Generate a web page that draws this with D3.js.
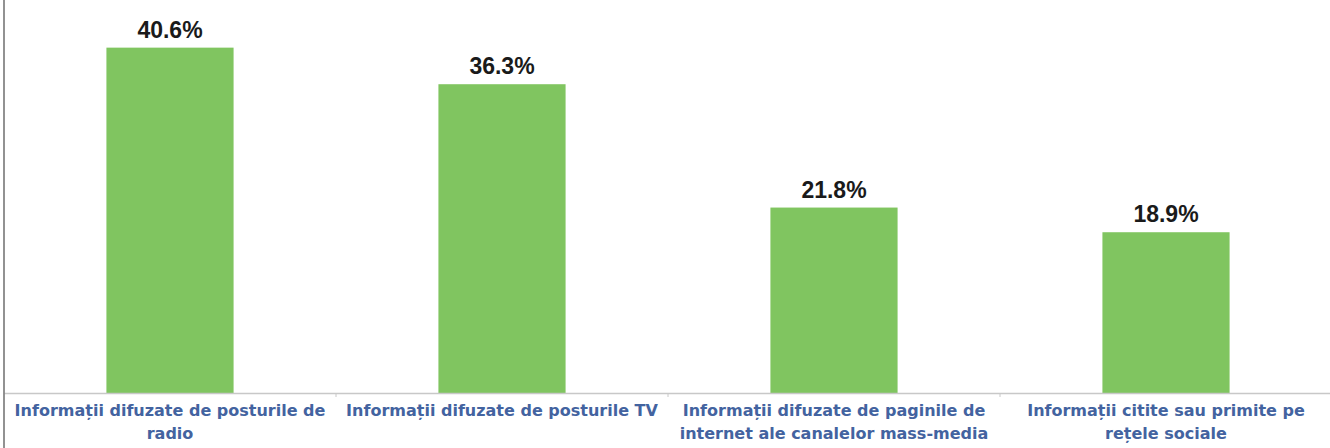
<!DOCTYPE html>
<html>
<head>
<meta charset="utf-8">
<script src="https://cdn.jsdelivr.net/npm/d3@7"></script>
<style>
  html, body { margin: 0; padding: 0; background: #ffffff; }
  svg { display: block; }
</style>
</head>
<body>
<svg id="chart" width="1330" height="448"></svg>
<script>
const categories = [
  "Informații difuzate de posturile de radio",
  "Informații difuzate de posturile TV",
  "Informații difuzate de paginile de internet ale canalelor mass-media",
  "Informații citite sau primite pe rețele sociale"
];
const categoryLines = [
  ["Informații difuzate de posturile de", "radio"],
  ["Informații difuzate de posturile TV"],
  ["Informații difuzate de paginile de", "internet ale canalelor mass-media"],
  ["Informații citite sau primite pe", "rețele sociale"]
];
const values = [40.6, 36.3, 21.8, 18.9];
const valueLabels = ["40.6%", "36.3%", "21.8%", "18.9%"];

const W = 1330, H = 448;
const left = 4, right = 1332, baseY = 393;

const svg = d3.select("#chart");

const x = d3.scaleBand()
  .domain(categories)
  .range([left, right])
  .paddingInner(0.617)
  .paddingOuter(0.3085);

const y = d3.scaleLinear()
  .domain([0, 46.2])
  .range([baseY, 0]);

// bars
svg.append("g").selectAll("rect")
  .data(categories)
  .join("rect")
  .attr("x", d => x(d))
  .attr("y", (d, i) => y(values[i]))
  .attr("width", x.bandwidth())
  .attr("height", (d, i) => baseY - y(values[i]))
  .attr("fill", "#80c560");

// value labels
svg.append("g").selectAll("text")
  .data(categories)
  .join("text")
  .attr("x", d => x(d) + x.bandwidth() / 2)
  .attr("y", (d, i) => y(values[i]) - 10)
  .attr("text-anchor", "middle")
  .attr("font-family", "Liberation Sans, Arial, sans-serif")
  .attr("font-weight", "bold")
  .attr("font-size", "23px")
  .attr("fill", "#1a1a1a")
  .text((d, i) => valueLabels[i]);

// x axis
const xAxis = d3.axisBottom(x).tickSize(0).tickFormat("");
const gx = svg.append("g")
  .attr("transform", `translate(0,${baseY})`)
  .call(xAxis);
gx.select(".domain").attr("stroke", "#c8c8c8").attr("stroke-width", 1.5);

// separator ticks between categories
const step = x.step();
svg.append("g").selectAll("line")
  .data(d3.range(1, categories.length))
  .join("line")
  .attr("x1", i => left + step * i)
  .attr("x2", i => left + step * i)
  .attr("y1", baseY)
  .attr("y2", baseY + 4)
  .attr("stroke", "#c8c8c8")
  .attr("stroke-width", 1);

// category labels
const labels = svg.append("g").selectAll("text")
  .data(categories)
  .join("text")
  .attr("text-anchor", "middle")
  .attr("font-family", "DejaVu Sans, Verdana, sans-serif")
  .attr("font-weight", "bold")
  .attr("font-size", "16px")
  .attr("fill", "#4363a0");
labels.each(function(d, i) {
  const t = d3.select(this);
  categoryLines[i].forEach((line, j) => {
    t.append("tspan")
      .attr("x", x(d) + x.bandwidth() / 2)
      .attr("y", 416 + j * 23)
      .text(line);
  });
});

// left vertical line
svg.append("line")
  .attr("x1", 4).attr("x2", 4)
  .attr("y1", 0).attr("y2", H)
  .attr("stroke", "#6e6e6e")
  .attr("stroke-width", 1.5);
</script>
</body>
</html>
